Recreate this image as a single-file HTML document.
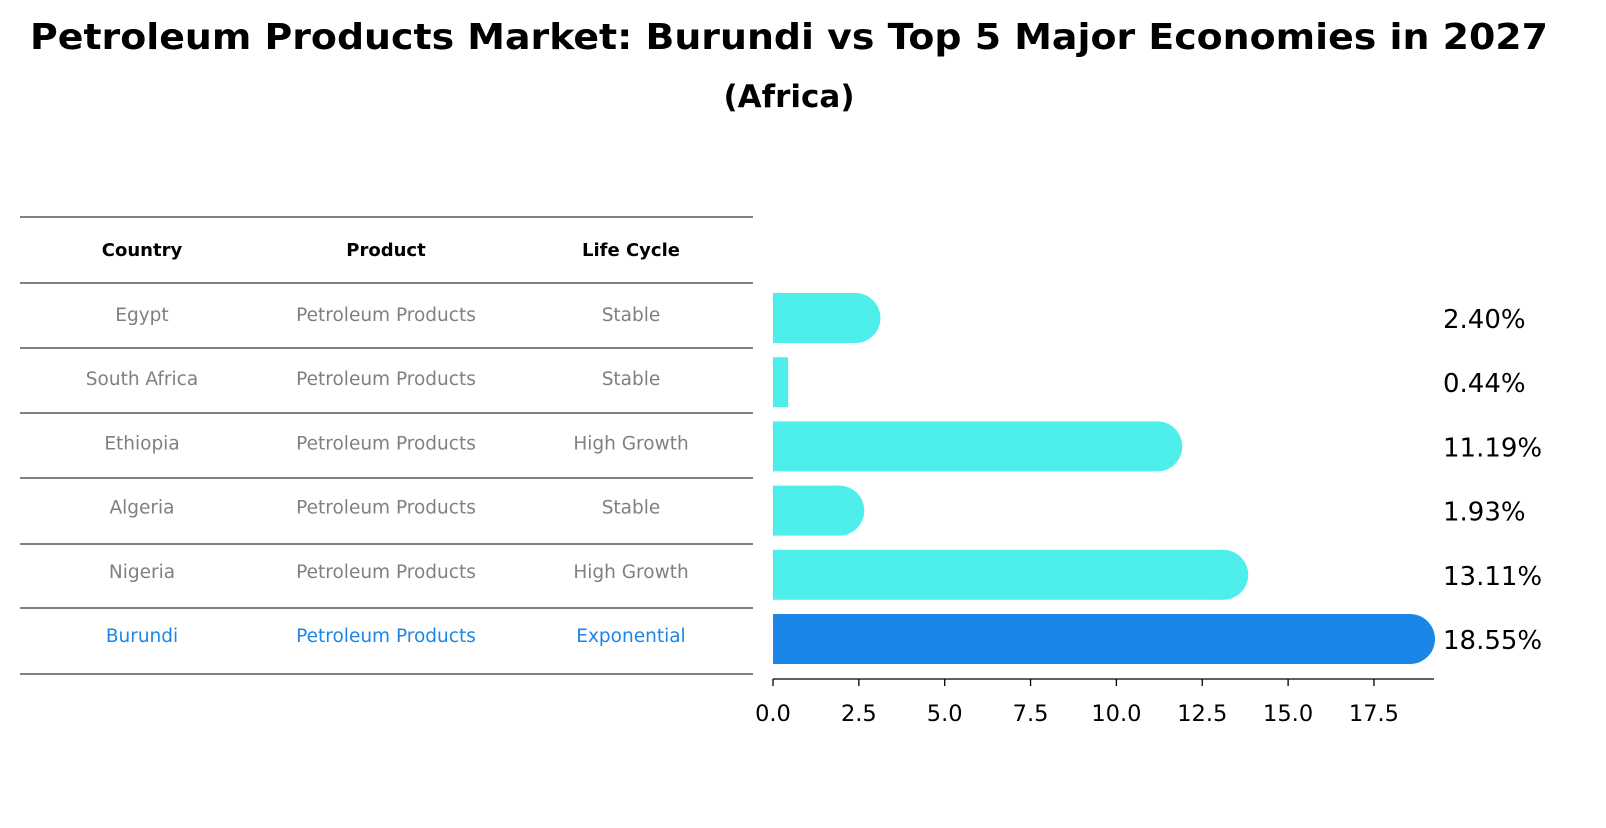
<!DOCTYPE html>
<html><head><meta charset="utf-8"><style>
body{margin:0;background:#fff;font-family:"Liberation Sans","DejaVu Sans",sans-serif}
svg text{font-family:"DejaVu Sans","Liberation Sans",sans-serif}
</style></head><body>
<svg width="1606" height="823" viewBox="0 0 1606 823" xmlns="http://www.w3.org/2000/svg">
<text x="789" y="49" text-anchor="middle" font-size="36" font-weight="bold" textLength="1518" lengthAdjust="spacingAndGlyphs">Petroleum Products Market: Burundi vs Top 5 Major Economies in 2027</text>
<text x="789" y="107" text-anchor="middle" font-size="31" font-weight="bold">(Africa)</text>
<g id="table"></g>
<g id="bars"></g>
<g id="axis"></g>
</svg>
<script>
const countries=["Egypt","South Africa","Ethiopia","Algeria","Nigeria","Burundi"];
const products=["Petroleum Products","Petroleum Products","Petroleum Products","Petroleum Products","Petroleum Products","Petroleum Products"];
const lifeCycles=["Stable","Stable","High Growth","Stable","High Growth","Exponential"];
const values=[2.40,0.44,11.19,1.93,13.11,18.55];
const ticks=[0,2.5,5,7.5,10,12.5,15,17.5];
const NS="http://www.w3.org/2000/svg";
function mk(t,a,p){const e=document.createElementNS(NS,t);for(const k in a)e.setAttribute(k,a[k]);p.appendChild(e);return e;}
const x=v=>773+v*34.34;
const rowY=i=>318+i*64.2;
const tbl=document.getElementById('table'),bars=document.getElementById('bars'),ax=document.getElementById('axis');
const lines=[217,283,348,413,478,544,608,674];
lines.forEach((ly,i)=>{const l=mk('line',{x1:20,x2:753,y1:ly,y2:ly,stroke:'#000','stroke-width':1},tbl);

});
const cols=[142,386,631];
["Country","Product","Life Cycle"].forEach((h,j)=>{const t=mk('text',{x:cols[j],y:256,'text-anchor':'middle','font-size':18,'font-weight':'bold'},tbl);t.textContent=h;

});
countries.forEach((c,i)=>{
 const hi=c==="Burundi";const col=hi?'#1a86e8':'#808080';const y=rowY(i);
 [c,products[i],lifeCycles[i]].forEach((s,j)=>{const t=mk('text',{x:cols[j],y:y+3,'text-anchor':'middle','font-size':18.5,fill:col},tbl);t.textContent=s;
 
 });
 const v=values[i];const h=50;const fill=hi?'#1a86e8':'#4eeeea';
 const g=mk('g',{},bars);
 
 
 mk('rect',{x:773,y:y-h/2,width:x(v)-773,height:h,fill:fill},g);
 if(v>1)mk('circle',{cx:x(v),cy:y,r:h/2,fill:fill},g);
 const t=mk('text',{x:1443,y:y+10,'font-size':26},bars);t.textContent=v.toFixed(2)+'%';
 
 
});
mk('line',{x1:773,x2:1434,y1:679,y2:679,stroke:'#000','stroke-width':1.3},ax);
ticks.forEach(tv=>{mk('line',{x1:x(tv),x2:x(tv),y1:679,y2:686,stroke:'#000','stroke-width':1.3},ax);
 const t=mk('text',{x:x(tv),y:721,'text-anchor':'middle','font-size':22.5},ax);t.textContent=tv.toFixed(1);
 
 });
</script>
</body></html>
